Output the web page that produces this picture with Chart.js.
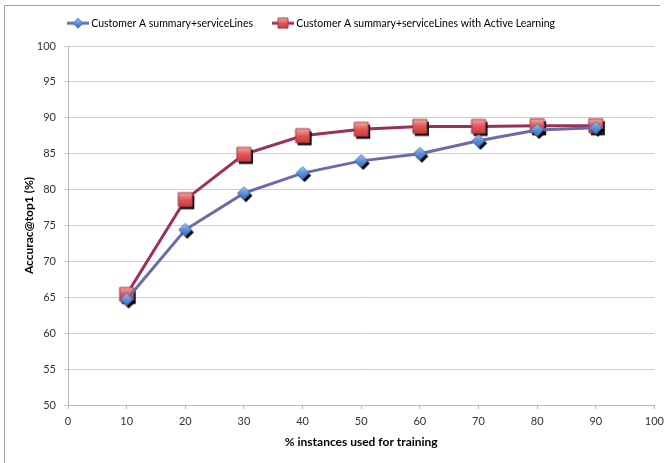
<!DOCTYPE html>
<html>
<head>
<meta charset="utf-8">
<script src="https://cdn.jsdelivr.net/npm/chart.js@4"></script>
<style>
  html, body { margin: 0; padding: 0; background: #fff; }
  #wrap { position: relative; width: 670px; height: 463px; }
</style>
</head>
<body>
<div id="wrap"><canvas id="c" width="670" height="463"></canvas></div>
<script>
// Training share (%) on the x axis
const trainingPct = [10, 20, 30, 40, 50, 60, 70, 80, 90];
// Accuracy@top1 (%) for each training share
const baselineAcc = [64.7, 74.4, 79.5, 82.3, 84.0, 85.0, 86.8, 88.3, 88.6];
const activeAcc   = [65.4, 78.6, 84.9, 87.5, 88.4, 88.8, 88.8, 88.9, 88.9];
const seriesNames = [
  'Customer A summary+serviceLines',
  'Customer A summary+serviceLines with Active Learning'
];
const xTicks = [0, 10, 20, 30, 40, 50, 60, 70, 80, 90, 100];
const yTicks = [50, 55, 60, 65, 70, 75, 80, 85, 90, 95, 100];

const FONT = 'Lato, "Liberation Sans", sans-serif';

// Marker sprites: a black drop shadow under a gradient-filled shape
function diamondPath(ctx, cx, cy, r) {
  ctx.beginPath();
  ctx.moveTo(cx, cy - r); ctx.lineTo(cx + r, cy);
  ctx.lineTo(cx, cy + r); ctx.lineTo(cx - r, cy);
  ctx.closePath();
}
function squarePath(ctx, cx, cy, h) {
  ctx.beginPath();
  ctx.rect(cx - h, cy - h, h * 2, h * 2);
}
function makeMarker(kind, w, h, lineColor) {
  const cv = document.createElement('canvas');
  cv.width = w; cv.height = h;
  const ctx = cv.getContext('2d');
  const cx = w / 2, cy = h / 2;
  if (lineColor) {
    ctx.strokeStyle = lineColor; ctx.lineWidth = 3;
    ctx.beginPath(); ctx.moveTo(0, cy); ctx.lineTo(w, cy); ctx.stroke();
  }
  if (kind === 'diamond') {
    const r = lineColor ? 5 : 6.5;
    if (!lineColor) { ctx.fillStyle = '#000'; diamondPath(ctx, cx + 2, cy + 2.5, r); ctx.fill(); }
    const g = ctx.createLinearGradient(cx, cy - r, cx, cy + r);
    g.addColorStop(0, '#a9c4ee'); g.addColorStop(0.5, '#5b8fd6'); g.addColorStop(1, '#3d6fbf');
    ctx.fillStyle = g; diamondPath(ctx, cx, cy, r); ctx.fill();
    ctx.strokeStyle = '#3a64a6'; ctx.lineWidth = 0.8; ctx.stroke();
  } else {
    const s = lineColor ? 5 : 7;
    if (!lineColor) { ctx.fillStyle = '#000'; squarePath(ctx, cx + 2, cy + 2.5, s); ctx.fill(); }
    const g = ctx.createLinearGradient(cx, cy - s, cx, cy + s);
    g.addColorStop(0, '#f6a6a6'); g.addColorStop(0.5, '#e25656'); g.addColorStop(1, '#c63c3c');
    ctx.fillStyle = g; squarePath(ctx, cx, cy, s); ctx.fill();
    ctx.strokeStyle = '#a33a4a'; ctx.lineWidth = 1; ctx.stroke();
  }
  return cv;
}

const BLUE_LINE = '#6b6ba8';
const RED_LINE = '#9c2f5f';
const blueMarker = makeMarker('diamond', 22, 22);
const redMarker = makeMarker('square', 22, 22);
const blueLegend = makeMarker('diamond', 22, 12, BLUE_LINE);
const redLegend = makeMarker('square', 22, 12, RED_LINE);

// Grey frame along the top and left edge of the chart object
const framePlugin = {
  id: 'frame',
  beforeDraw(chart) {
    const ctx = chart.ctx;
    ctx.save();
    ctx.fillStyle = '#fff';
    ctx.fillRect(0, 0, chart.width, chart.height);
    ctx.strokeStyle = '#a0a0a0';
    ctx.lineWidth = 1;
    ctx.beginPath();
    ctx.moveTo(4.5, chart.height);
    ctx.lineTo(4.5, 5.5);
    ctx.lineTo(660, 5.5);
    ctx.stroke();
    ctx.restore();
  }
};

// Fixed legend band height, and the legend row placed from the left
const LEGEND_BAND = 43;
const LEGEND_START_X = 70;
const LEGEND_TEXT_Y = 24;
const legendPlace = {
  id: 'legendPlace',
  beforeLayout(chart) {
    const lg = chart.legend;
    if (lg && !lg._bandFixed) {
      const fit = lg.fit;
      lg.fit = function () { fit.call(this); this.height = LEGEND_BAND; };
      lg._bandFixed = true;
    }
  },
  afterLayout(chart) {
    const lg = chart.legend;
    if (!lg || !lg.lineWidths || !lg.lineWidths.length) return;
    const pad = lg.options.labels.padding;
    // centred row origin as the legend computes it
    const x0 = (lg.left + pad + lg.right - lg.lineWidths[0]) / 2;
    const dx = LEGEND_START_X - x0;
    const dy = (LEGEND_TEXT_Y - pad - 6) - lg.top;
    lg.left += dx; lg.right += dx;
    lg.top += dy; lg.bottom += dy;
  }
};

new Chart(document.getElementById('c'), {
  type: 'line',
  data: {
    datasets: [
      {
        label: seriesNames[0],
        data: trainingPct.map((x, i) => ({ x, y: baselineAcc[i] })),
        borderColor: BLUE_LINE,
        borderWidth: 3,
        pointStyle: blueMarker,
        pointRadius: 7,
        tension: 0,
        legendImage: blueLegend
      },
      {
        label: seriesNames[1],
        data: trainingPct.map((x, i) => ({ x, y: activeAcc[i] })),
        borderColor: RED_LINE,
        borderWidth: 3,
        pointStyle: redMarker,
        pointRadius: 7,
        tension: 0,
        legendImage: redLegend
      }
    ]
  },
  options: {
    responsive: false,
    animation: false,
    layout: { padding: { left: 0, right: 12, top: 3, bottom: 0 } },
    plugins: {
      tooltip: { enabled: false },
      legend: {
        position: 'top',
        labels: {
          usePointStyle: true,
          pointStyleWidth: 16,
          padding: 22,
          color: '#000',
          font: { family: FONT, size: 10.5 },
          generateLabels(chart) {
            return chart.data.datasets.map((ds, i) => ({
              text: ds.label,
              pointStyle: ds.legendImage,
              fillStyle: ds.borderColor,
              strokeStyle: ds.borderColor,
              lineWidth: 0,
              hidden: false,
              datasetIndex: i,
              fontColor: '#000'
            }));
          }
        }
      }
    },
    scales: {
      x: {
        type: 'linear',
        min: 0, max: 100,
        afterFit(s) { s.height = 58; },
        afterBuildTicks(s) { s.ticks = xTicks.map(v => ({ value: v })); },
        border: { color: '#b8b8b8', width: 1 },
        grid: { drawOnChartArea: false, tickLength: 4, color: '#b8b8b8' },
        ticks: { padding: 6, color: '#333', font: { family: FONT, size: 11 } },
        title: {
          display: true,
          text: '% instances used for training',
          color: '#000',
          font: { family: FONT, size: 12, weight: 'bold' },
          padding: { top: 14, bottom: 14 }
        }
      },
      y: {
        min: 50, max: 100,
        afterFit(s) { s.width = 68; },
        afterBuildTicks(s) { s.ticks = yTicks.map(v => ({ value: v })); },
        border: { color: '#b8b8b8', width: 1 },
        grid: { color: '#cfcfcf', tickLength: 4, drawTicks: true },
        ticks: { padding: 8, color: '#333', font: { family: FONT, size: 11 } },
        title: {
          display: true,
          text: 'Accurac@top1 (%)',
          color: '#000',
          font: { family: FONT, size: 12, weight: 'bold' },
          padding: { top: 22, bottom: 0 }
        }
      }
    }
  },
  plugins: [framePlugin, legendPlace]
});
</script>
</body>
</html>
